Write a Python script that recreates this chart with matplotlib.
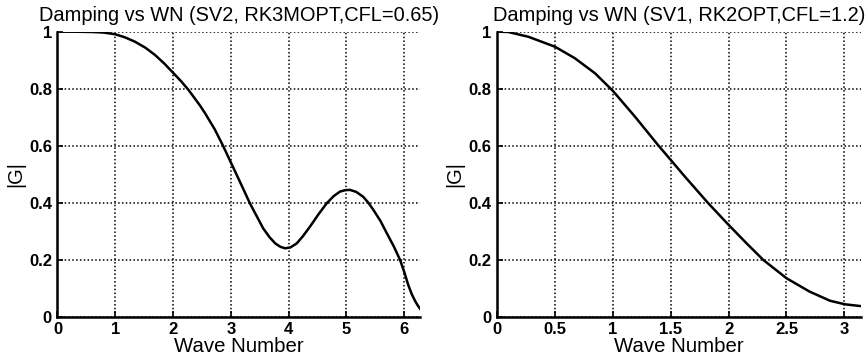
import matplotlib.pyplot as plt
import numpy as np

plt.rcParams['font.family'] = ['Liberation Sans', 'DejaVu Sans']

# left panel: SV2, RK3MOPT, CFL=0.65
wn_left = [0.0, 0.3, 0.6, 0.8, 1.0, 1.17, 1.34, 1.52, 1.69, 1.85, 2.01, 2.14, 2.27, 2.47, 2.56,
           2.72, 2.86, 3.05, 3.2, 3.33, 3.45, 3.56, 3.67, 3.77, 3.86, 3.94, 4.03, 4.14, 4.25,
           4.37, 4.52, 4.66, 4.78, 4.89, 4.98, 5.06, 5.17, 5.29, 5.38, 5.47, 5.59, 5.70, 5.82,
           5.93, 6.0, 6.07, 6.13, 6.19, 6.24, 6.29]
g_left = [1.0, 1.0, 0.999, 0.997, 0.991, 0.98, 0.965, 0.944, 0.918, 0.888, 0.854, 0.826, 0.795,
          0.74, 0.712, 0.658, 0.602, 0.52, 0.455, 0.398, 0.352, 0.31, 0.279, 0.257, 0.245,
          0.24, 0.243, 0.257, 0.283, 0.316, 0.36, 0.398, 0.423, 0.439, 0.444, 0.445, 0.438,
          0.421, 0.4, 0.374, 0.336, 0.293, 0.247, 0.199, 0.158, 0.112, 0.08, 0.055, 0.038,
          0.024]

# right panel: SV1, RK2OPT, CFL=1.2
wn_right = [0.0, 0.095, 0.27, 0.5, 0.67, 0.845, 1.0, 1.19, 1.39, 1.51, 1.61, 1.666, 1.824,
            2.0, 2.156, 2.3, 2.5, 2.7, 2.876, 3.006, 3.135]
g_right = [1.0, 0.999, 0.982, 0.947, 0.907, 0.854, 0.792, 0.702, 0.602, 0.545, 0.497, 0.471,
           0.398, 0.322, 0.257, 0.199, 0.135, 0.088, 0.056, 0.0435, 0.0375]

titles = ['Damping vs WN (SV2, RK3MOPT,CFL=0.65)', 'Damping vs WN (SV1, RK2OPT,CFL=1.2)']
xticks_left = [0, 1, 2, 3, 4, 5, 6]
xticks_right = [0, 0.5, 1, 1.5, 2, 2.5, 3]
yticks = [0, 0.2, 0.4, 0.6, 0.8, 1]

fig = plt.figure(figsize=(8.67, 3.58), dpi=100)
ax1 = fig.add_axes([57.5/867, 41.3/358, 363/867, 285/358])
ax2 = fig.add_axes([497.3/867, 41.3/358, 363.4/867, 285/358])

panels = [(ax1, wn_left, g_left, 2*np.pi, xticks_left, titles[0]),
          (ax2, wn_right, g_right, np.pi, xticks_right, titles[1])]

for ax, x, y, xmax, xt, title in panels:
    ax.plot(x, y, color='black', linewidth=1.8, solid_joinstyle='round')
    ax.set_xlim(0, xmax)
    ax.set_ylim(0, 1)
    ax.set_xticks(xt)
    ax.set_xticklabels([('%g' % v) for v in xt])
    ax.set_yticks(yticks)
    ax.set_yticklabels([('%g' % v) for v in yticks])
    ax.grid(True, color='black', linestyle=(0, (1, 1.5)), linewidth=1.1)
    for s in ['top', 'right']:
        ax.spines[s].set_visible(False)
    for s in ['left', 'bottom']:
        ax.spines[s].set_linewidth(1.8)
    ax.tick_params(direction='in', length=4, width=1.2, labelsize=12)
    ax.tick_params(axis='x', pad=4)
    ax.tick_params(axis='y', pad=4)
    for lab in ax.get_xticklabels() + ax.get_yticklabels():
        lab.set_fontweight('bold')
    ax.set_title(title, fontsize=14.4, pad=8)
    ax.set_xlabel('Wave Number', fontsize=14.7, labelpad=0)
    ax.set_ylabel('|G|', fontsize=14.4, labelpad=3)

fig.savefig('out.png', dpi=100)
